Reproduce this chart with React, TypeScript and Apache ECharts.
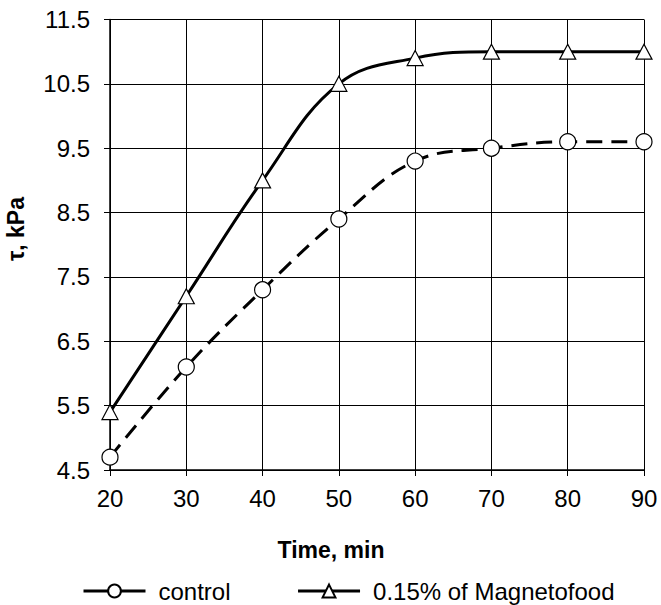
import React, { useEffect, useRef } from "react";
import * as echarts from "echarts";

const times = [20, 30, 40, 50, 60, 70, 80, 90];
const controlValues = [4.7, 6.1, 7.3, 8.4, 9.3, 9.5, 9.6, 9.6];
const magnetoValues = [5.4, 7.2, 9.0, 10.5, 10.9, 11.0, 11.0, 11.0];
const seriesNames = ["control", "0.15% of Magnetofood"];
const xTitle = "Time, min";
const yTitle = "τ, kPa";

const FONT = "Arial, 'Liberation Sans', sans-serif";

export default function App() {
  const ref = useRef<HTMLDivElement>(null);
  useEffect(() => {
    if (!ref.current) return;
    const chart = echarts.init(ref.current, undefined, { renderer: "svg" });
    const pair = (vals: number[]) => times.map((t, i) => [t, vals[i]]);
    chart.setOption({
      animation: false,
      backgroundColor: "#ffffff",
      textStyle: { fontFamily: FONT, color: "#000" },
      grid: { left: 110, right: 17, top: 19.5, bottom: 135, show: false },
      xAxis: {
        type: "value",
        min: 20,
        max: 90,
        interval: 10,
        axisLine: { show: true, onZero: false, lineStyle: { color: "#000", width: 1.5 } },
        axisTick: { show: true, length: 6, inside: false, lineStyle: { color: "#000", width: 1 } },
        axisLabel: { margin: 16, fontSize: 24, color: "#000", fontFamily: FONT },
        splitLine: { show: true, lineStyle: { color: "#000", width: 1 } },
      },
      yAxis: {
        type: "value",
        min: 4.5,
        max: 11.5,
        interval: 1,
        axisLine: { show: true, onZero: false, lineStyle: { color: "#000", width: 1.5 } },
        axisTick: { show: true, length: 6, inside: false, lineStyle: { color: "#000", width: 1 } },
        axisLabel: {
          margin: 20,
          fontSize: 24,
          color: "#000",
          fontFamily: FONT,
          formatter: (v: number) => v.toFixed(1),
        },
        splitLine: { show: true, lineStyle: { color: "#000", width: 1 } },
      },
      legend: {
        left: 82,
        top: 579,
        padding: 0,
        itemWidth: 62,
        itemHeight: 16,
        itemGap: 66,
        textStyle: { fontSize: 24, color: "#000", fontFamily: FONT, padding: [0, 0, 0, 8] },
        data: [
          { name: seriesNames[0], lineStyle: { type: "solid", width: 3 } },
          { name: seriesNames[1], lineStyle: { width: 3 } },
        ],
      },
      graphic: [
        {
          type: "text",
          x: 331,
          y: 550,
          style: {
            text: xTitle,
            fontSize: 23,
            fontWeight: "bold",
            fontFamily: FONT,
            fill: "#000",
            align: "center",
            verticalAlign: "middle",
          },
        },
        {
          type: "text",
          x: 16,
          y: 229,
          rotation: Math.PI / 2,
          style: {
            text: yTitle,
            fontSize: 23,
            fontWeight: "bold",
            fontFamily: FONT,
            fill: "#000",
            align: "center",
            verticalAlign: "middle",
          },
        },
      ],
      series: [
        {
          name: seriesNames[0],
          type: "line",
          data: pair(controlValues),
          smooth: 0.4,
          symbol: "circle",
          symbolSize: 16,
          lineStyle: { color: "#000", width: 3, type: [16, 9] },
          itemStyle: { color: "#fff", borderColor: "#000", borderWidth: 1.2 },
          z: 3,
        },
        {
          name: seriesNames[1],
          type: "line",
          data: pair(magnetoValues),
          smooth: 0.4,
          symbol: "triangle",
          symbolSize: [16, 15],
          lineStyle: { color: "#000", width: 3, type: "solid" },
          itemStyle: { color: "#fff", borderColor: "#000", borderWidth: 1.2 },
          z: 4,
        },
      ],
    });
    return () => chart.dispose();
  }, []);
  return <div ref={ref} style={{ width: 661, height: 605, position: "absolute", left: 0, top: 0 }} />;
}
